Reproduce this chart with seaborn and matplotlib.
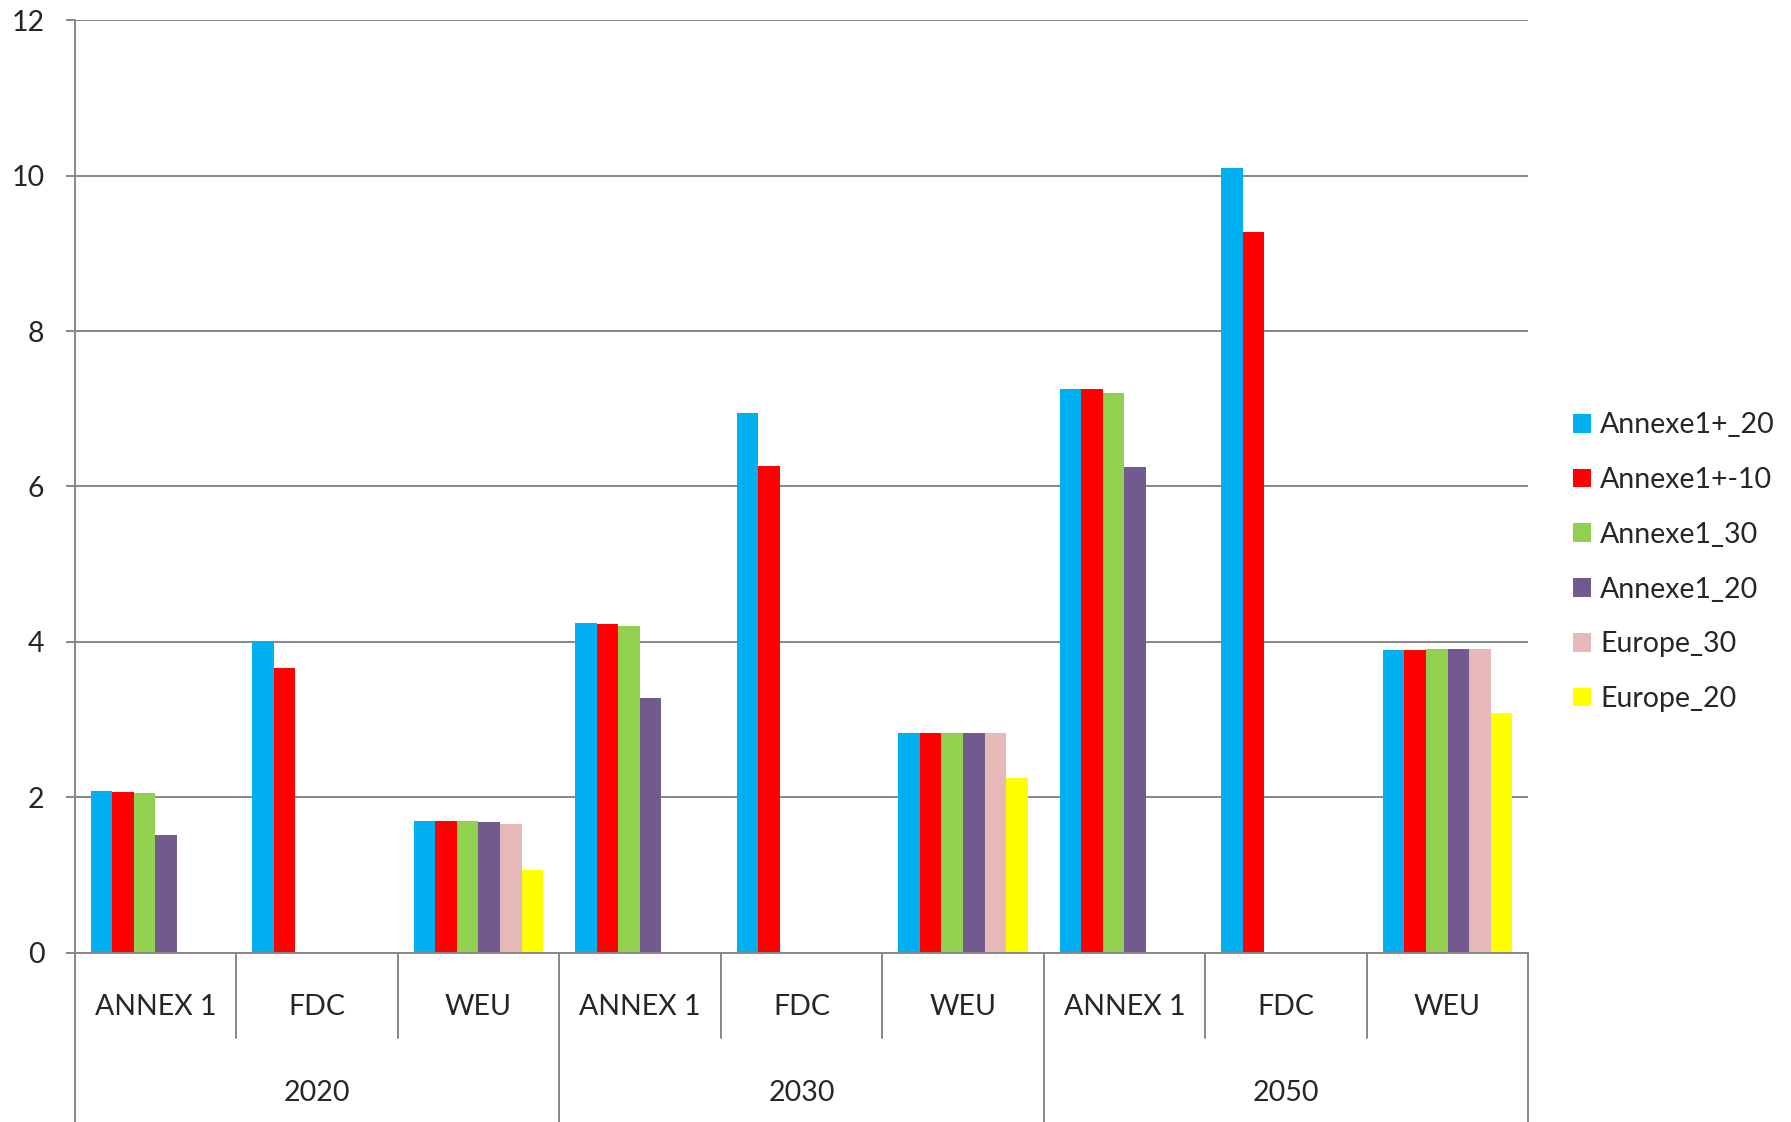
import numpy as np
import pandas as pd
import matplotlib
matplotlib.use("Agg")
import matplotlib.pyplot as plt
import matplotlib.transforms as mtransforms
import seaborn as sns

# ---------------- data ----------------
years = ["2020", "2030", "2050"]
regions = ["ANNEX 1", "FDC", "WEU"]
series = ["Annexe1+_20", "Annexe1+-10", "Annexe1_30", "Annexe1_20", "Europe_30", "Europe_20"]
colors = ["#00B0F0", "#FF0000", "#92D050", "#725A8F", "#E6B9B8", "#FFFF00"]

nan = np.nan
# order: 2020 (ANNEX 1, FDC, WEU), 2030 (...), 2050 (...)
annexe1p_20 = [2.08, 4.01, 1.69, 4.24, 6.95, 2.83, 7.26, 10.10, 3.90]
annexe1p_m10 = [2.07, 3.67, 1.69, 4.23, 6.27, 2.83, 7.25, 9.28, 3.90]
annexe1_30 = [2.06, nan, 1.69, 4.20, nan, 2.83, 7.20, nan, 3.91]
annexe1_20 = [1.52, nan, 1.68, 3.28, nan, 2.83, 6.25, nan, 3.91]
europe_30 = [nan, nan, 1.65, nan, nan, 2.83, nan, nan, 3.91]
europe_20 = [nan, nan, 1.07, nan, nan, 2.25, nan, nan, 3.08]

yticks = [0, 2, 4, 6, 8, 10, 12]

# ---------------- build table ----------------
cats = [f"{y}|{r}" for y in years for r in regions]
values = [annexe1p_20, annexe1p_m10, annexe1_30, annexe1_20, europe_30, europe_20]
rows = []
for s, vals in zip(series, values):
    for c, v in zip(cats, vals):
        rows.append({"cat": c, "series": s, "value": v})
df = pd.DataFrame(rows).dropna()

# ---------------- figure ----------------
sns.set_style("white")
plt.rcParams["font.family"] = ["Lato", "DejaVu Sans"]
FS = 20.5

fig = plt.figure(figsize=(17.91, 11.22), dpi=100)
ax = fig.add_axes([0.0417, 0.1509, 0.8116, 0.8310])

sns.barplot(data=df, x="cat", y="value", hue="series", order=cats,
            hue_order=series, palette=colors, saturation=1, width=0.8,
            linewidth=0, errorbar=None, ax=ax)

grid_c = "#878787"
ax.set_ylim(0, 12)
ax.set_xlim(-0.5, len(cats) - 0.5)
ax.set_yticks(yticks)
ax.set_yticklabels([str(t) for t in yticks], fontsize=FS)
ax.yaxis.grid(True, color=grid_c, linewidth=1.4)
ax.set_axisbelow(True)
ax.tick_params(axis="y", direction="out", length=6.8, width=1.4, color=grid_c, pad=15, left=True)
ax.tick_params(axis="x", bottom=False, labelbottom=False)
ax.set_xlabel("")
ax.set_ylabel("")
for side in ["top", "right"]:
    ax.spines[side].set_visible(False)
for side in ["left", "bottom"]:
    ax.spines[side].set_color(grid_c)
    ax.spines[side].set_linewidth(1.4)

# ---------------- hierarchical x axis ----------------
trans = mtransforms.blended_transform_factory(ax.transData, ax.transAxes)
n = len(cats)
for i in range(n + 1):
    xb = i - 0.5
    if i % 3 == 0:
        ax.plot([xb, xb], [0, -0.19], transform=trans, color=grid_c, lw=1.4, clip_on=False)
    else:
        ax.plot([xb, xb], [0, -0.0912], transform=trans, color=grid_c, lw=1.4, clip_on=False)

for i, c in enumerate(cats):
    y, r = c.split("|")
    ax.text(i, -0.058, r, transform=trans, ha="center", va="center", fontsize=FS)
for j, y in enumerate(years):
    ax.text(j * 3 + 1, -0.1505, y, transform=trans, ha="center", va="center", fontsize=FS)

# ---------------- legend ----------------
handles, labels = ax.get_legend_handles_labels()
ax.legend(handles, labels, loc="center left", bbox_to_anchor=(1573 / 1791, 0.499),
          bbox_transform=fig.transFigure, frameon=False, fontsize=FS,
          handlelength=0.63, handleheight=0.63, handletextpad=0.33,
          labelspacing=1.01, borderpad=0, borderaxespad=0)

fig.savefig("out.png", dpi=100)
